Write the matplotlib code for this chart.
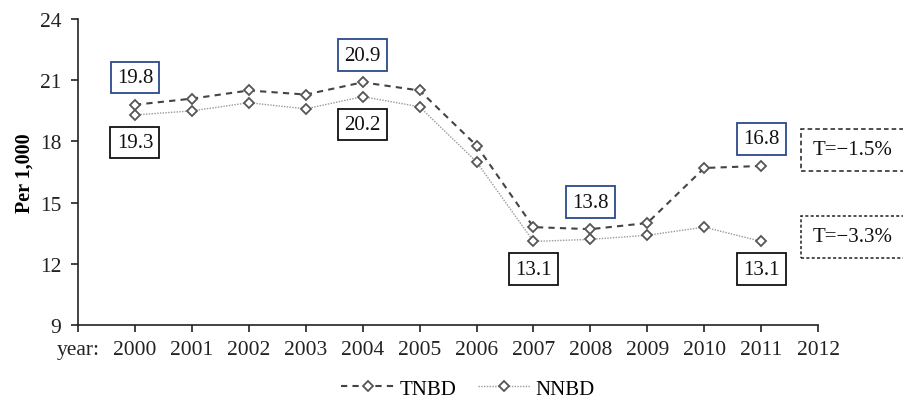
import matplotlib
matplotlib.use("Agg")
import matplotlib.pyplot as plt

plt.rcParams['font.family'] = ['Liberation Serif', 'DejaVu Serif']

years = [2000, 2001, 2002, 2003, 2004, 2005, 2006, 2007, 2008, 2009, 2010, 2011]
tnbd = [19.8, 20.1, 20.5, 20.3, 20.9, 20.5, 17.8, 13.8, 13.7, 14.0, 16.7, 16.8]
nnbd = [19.3, 19.5, 19.9, 19.6, 20.2, 19.7, 17.0, 13.1, 13.2, 13.4, 13.8, 13.1]
tick_positions = list(range(1999, 2013))
tick_labels = ["year:"] + [str(y) for y in range(2000, 2013)]
yticks = [9, 12, 15, 18, 21, 24]

# labelled points: (year, value text)
tnbd_labels = [(2000, "19.8"), (2004, "20.9"), (2008, "13.8"), (2011, "16.8")]
nnbd_labels = [(2000, "19.3"), (2004, "20.2"), (2007, "13.1"), (2011, "13.1")]
trend_tnbd = "T=\u22121.5%"
trend_nnbd = "T=\u22123.3%"

fig = plt.figure(figsize=(9.04, 4.02), dpi=100)
ax = fig.add_axes([0.0863, 0.189, 0.905 - 0.0863, 0.950 - 0.189])

l1, = ax.plot(years, tnbd, linestyle=(0, (3, 2.5)), color='#444444', lw=1.5,
              marker='D', markersize=5.5, mfc='white', mec='#555555', mew=1.3,
              label='TNBD')
l2, = ax.plot(years, nnbd, linestyle=(0, (1, 1)), color='#999999', lw=1.0,
              marker='D', markersize=5.5, mfc='white', mec='#555555', mew=1.3,
              label='NNBD')

ax.set_xlim(1999, 2012)
ax.set_ylim(9, 24)
ax.set_xticks(tick_positions)
ax.set_xticklabels(tick_labels)
ax.set_yticks(yticks)
ax.tick_params(axis='both', labelsize=15.5, length=5, width=1.2, direction='out',
               colors='#222222')
ax.tick_params(axis='x', pad=6)
ax.tick_params(axis='y', pad=7)
for s in ['top', 'right']:
    ax.spines[s].set_visible(False)
for s in ['left', 'bottom']:
    ax.spines[s].set_linewidth(1.2)
    ax.spines[s].set_color('#222222')

ax.set_ylabel("Per 1,000", fontsize=14.5, fontweight='bold', labelpad=4)

blue = '#2B4A8C'
for yr, txt in tnbd_labels:
    v = tnbd[years.index(yr)]
    ax.annotate(txt, (yr, v), xytext=(0, 19.5), textcoords='offset points',
                ha='center', va='center', fontsize=15, color='#111111',
                bbox=dict(boxstyle='square,pad=0.3', fc='white', ec=blue, lw=1.3))
for yr, txt in nnbd_labels:
    v = nnbd[years.index(yr)]
    ax.annotate(txt, (yr, v), xytext=(0, -20), textcoords='offset points',
                ha='center', va='center', fontsize=15, color='#111111',
                bbox=dict(boxstyle='square,pad=0.3', fc='white', ec='#111111', lw=1.3))

ax.annotate(trend_tnbd, (years[-1], tnbd[-1]), xytext=(66, 11.5), textcoords='offset points',
            ha='center', va='center', fontsize=15, color='#111111', annotation_clip=False,
            bbox=dict(boxstyle='square,pad=0.55', fc='white', ec='#222222', lw=1.1, ls=(0, (3, 2))))
ax.annotate(trend_nnbd, (years[-1], nnbd[-1]), xytext=(66, 3.5), textcoords='offset points',
            ha='center', va='center', fontsize=15, color='#111111', annotation_clip=False,
            bbox=dict(boxstyle='square,pad=0.55', fc='white', ec='#222222', lw=1.1, ls=(0, (2, 1.5))))

fig.legend(handles=[l1, l2], loc='center', bbox_to_anchor=(0.518, 0.03), ncol=2,
           frameon=False, fontsize=15, handlelength=2.5, columnspacing=1.0, handletextpad=0.3)

fig.savefig("out.png", dpi=100)
